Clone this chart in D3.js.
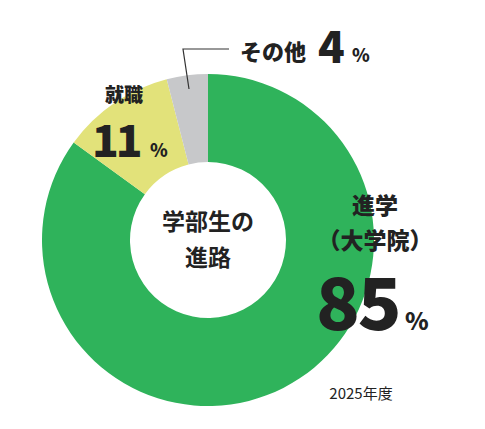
<!DOCTYPE html><html><head><meta charset="utf-8">
<script src="https://cdn.jsdelivr.net/npm/d3@7"></script>
<style>body{margin:0;background:#fff}text{font-family:"Noto Sans CJK JP","Noto Sans",sans-serif}</style></head><body>
<svg id="c" width="485" height="429"></svg>
<script>
const categories=["進学（大学院）","就職","その他"];
const values=[85,11,4];
const colors=["#2fb35b","#e2e27a","#c7c8ca"];
const svg=d3.select("#c");
const cx=208,cy=240,R=166,r=78;
const pie=d3.pie().sort(null).value(d=>d)(values);
const arc=d3.arc().innerRadius(r).outerRadius(R);
const g=svg.append("g").attr("transform",`translate(${cx},${cy})`);
g.selectAll("path").data(pie).join("path").attr("d",arc).attr("fill",(d,i)=>colors[i]);
svg.append("polyline").attr("points","189,89 183,49 229,49").attr("fill","none").attr("stroke","#333").attr("stroke-width",1.2);
const t=(x,y,s,sz,w,anchor)=>svg.append("text").attr("x",x).attr("y",y).attr("font-size",sz).attr("font-weight",w||900).attr("fill","#222").attr("text-anchor",anchor||"start").text(s);
t(240,60,"その他",22,900);
t(318,63,values[2],44,900);
t(352,62,"%",18,900);
t(105,102,"就職",19,900);
t(92,157,values[1],44,900).attr("letter-spacing",-3);
t(150,157,"%",18,900);
t(208,230,"学部生の",23,700,"middle");
t(208,266,"進路",23,700,"middle");
t(375,214,"進学",23,900,"middle");
t(375,249,"（大学院）",23,900,"middle");
t(316,330,values[0],72,900).attr("letter-spacing",-2);
t(405,330,"%",24,900);
t(361,399,"2025年度",15,400,"middle");
</script></body></html>
